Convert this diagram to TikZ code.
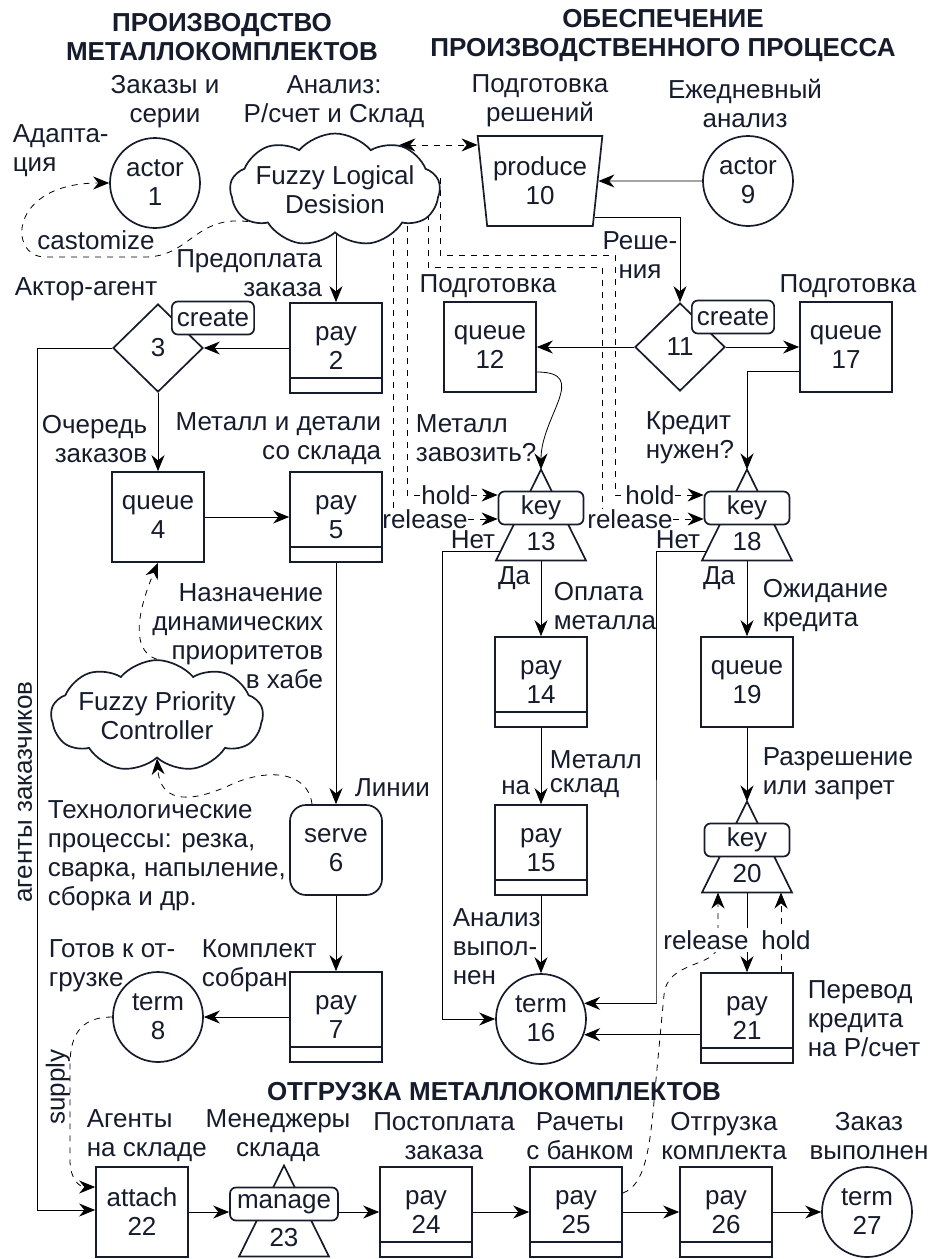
\documentclass[tikz,border=0pt]{standalone}
\usepackage{fontspec}
\setmainfont{Liberation Sans}
\usetikzlibrary{arrows.meta,shapes.geometric,shapes.symbols,calc,backgrounds}

\definecolor{ink}{RGB}{22,28,44}

\tikzset{
  box/.style={draw, fill=white, minimum width=46pt, minimum height=45pt, inner sep=1pt, align=center},
  paybox/.style={box, path picture={\draw ([yshift=7.5pt]path picture bounding box.south west) -- ([yshift=7.5pt]path picture bounding box.south east);}},
  circ/.style={draw, fill=white, circle, minimum size=45pt, inner sep=0pt, align=center},
  dia/.style={draw, fill=white, diamond, minimum width=45pt, minimum height=44pt, inner sep=0pt},
  tag/.style={draw, fill=white, rounded corners=3pt, minimum height=16.5pt, inner xsep=2.5pt, inner ysep=0pt},
  fuzzy/.style={draw, fill=white, cloud, cloud puffs=9, cloud puff arc=100, aspect=2.4, inner sep=-3.5pt, align=center},
  txt/.style={align=center, inner sep=1pt},
  sig/.style={inner sep=0pt},
  ttl/.style={align=center, font=\fontsize{13}{14.5}\selectfont\bfseries}
}

% key / manage block: name, x, y, text, number, width
\newcommand{\keyblock}[6]{%
  \draw (#2,#3-38.5) -- (#2-45,#3+52.5) -- (#2+45,#3+52.5) -- cycle;
  \node[tag, minimum width=#6] (#1) at (#2,#3) {#4};
  \node (#1n) at (#2,#3+34) {#5};
  \coordinate (#1-top) at (#2,#3-38.5);
  \coordinate (#1-bot) at (#2,#3+52.5);
  \coordinate (#1-no) at ($(#1-top)!0.9!(#2-45,#3+52.5)$);
}

\begin{document}
\begin{tikzpicture}[x=0.5pt, y=-0.5pt, font=\fontsize{13}{14.5}\selectfont,
  line width=0.85pt, color=ink, >={Stealth[length=8pt,width=6.5pt]}]
\useasboundingbox (0,0) rectangle (930,1259);

% titles
\node[ttl] (ttl1) at (222,37) {ПРОИЗВОДСТВО\\МЕТАЛЛОКОМПЛЕКТОВ};
\node[ttl] (ttl2) at (663,36) {ОБЕСПЕЧЕНИЕ\\ПРОИЗВОДСТВЕННОГО ПРОЦЕССА};
\node[ttl] (ttl3) at (494,1092) {ОТГРУЗКА МЕТАЛЛОКОМПЛЕКТОВ};

% production
\node[circ] (a1) at (155,183) {actor\\1};
\node[fuzzy, minimum width=105pt, minimum height=44pt] (fld) at (335,190) {Fuzzy Logical\\Desision};
\node[paybox] (p2) at (336,348) {pay\\2};
\node[dia] (d3) at (158,348) {3};
\node[tag] (c3) at (213,318) {create};
\node[box] (q4) at (158,517) {queue\\4};
\node[paybox] (p5) at (336,517) {pay\\5};
\node[fuzzy, minimum width=106pt, minimum height=46pt] (fpc) at (157,716) {Fuzzy Priority\\Controller};
\node[box, rounded corners=8pt] (s6) at (336,850) {serve\\6};
\node[paybox] (p7) at (336,1017) {pay\\7};
\node[circ] (t8) at (158,1017) {term\\8};

% supply of the process
\node[draw, fill=white, trapezium, trapezium angle=100, trapezium stretches=true,
  minimum width=62.5pt, minimum height=45pt, inner sep=0pt, align=center] (p10) at (540,181) {produce\\10};
\node[circ] (a9) at (748,181) {actor\\9};
\node[dia] (d11) at (680,347) {11};
\node[tag] (c11) at (733,317) {create};
\node[box] (q12) at (490,347) {queue\\12};
\node[box] (q17) at (846,347) {queue\\17};
\keyblock{k13}{541}{508}{key}{13}{42.5pt}
\keyblock{k18}{747}{508}{key}{18}{42.5pt}
\node[paybox] (p14) at (541,682) {pay\\14};
\node[paybox] (p15) at (541,850) {pay\\15};
\node[circ] (t16) at (541,1019) {term\\16};
\node[box] (q19) at (747,682) {queue\\19};
\keyblock{k20}{747}{840}{key}{20}{42.5pt}
\node[paybox] (p21) at (747,1018) {pay\\21};

% shipping
\node[box] (at22) at (142,1212) {attach\\22};
\keyblock{m23}{284}{1204}{manage}{23}{54pt}
\node[paybox] (p24) at (426,1212) {pay\\24};
\node[paybox] (p25) at (576,1212) {pay\\25};
\node[paybox] (p26) at (726,1212) {pay\\26};
\node[circ] (t27) at (867,1212) {term\\27};

% labels
\node[txt] (l1) at (165,102) {Заказы и\\серии};
\node[txt] (l2) at (334,102) {Анализ:\\Р/счет и Склад};
\node[txt] (l3) at (540,101) {Подготовка\\решений};
\node[txt] (l4) at (745,103) {Ежедневный\\анализ};
\node[txt, align=left, anchor=west] (l5) at (10,151) {Адапта-\\ция};
\node[txt] (l6) at (96,240) {castomize};
\node[txt, align=right, anchor=east] (l7) at (325,273) {Предоплата\\заказа};
\node[txt] (l8) at (86,289) {Актор-агент};
\node[txt] (l9) at (488,286) {Подготовка};
\node[txt] (l10) at (848,286) {Подготовка};
\node[txt] (l11) at (640,255) {Реше-\\ния};
\node[txt, align=right, anchor=east] (l12) at (150,439) {Очередь\\заказов};
\node[txt, align=right, anchor=east] (l13) at (384,439) {Металл и детали\\со склада};
\node[txt, align=left, anchor=west] (l14) at (413,438) {Металл\\завозить?};
\node[txt, align=left, anchor=west] (l15) at (643,438) {Кредит\\нужен?};
\node[sig] (hd13) at (446,495) {hold};
\node[sig] (rl13) at (425,519) {release};
\node[sig] (hd18) at (650,495) {hold};
\node[sig] (rl18) at (630,519) {release};
\node[txt, anchor=east] (no13) at (498,540) {Нет};
\node[txt, anchor=east] (no18) at (703,540) {Нет};
\node[txt, anchor=east] (da13) at (533,578) {Да};
\node[txt, anchor=east] (da18) at (738,578) {Да};
\node[txt, align=left, anchor=west] (l16) at (551,606) {Оплата\\металла};
\node[txt, align=left, anchor=west] (l17) at (760,606) {Ожидание\\кредита};
\node[txt, align=right, anchor=east] (l18) at (326,636) {Назначение\\динамических\\приоритетов\\в хабе};
\node[txt, anchor=west] (l19) at (547,760) {Металл};
\node[txt, anchor=east] (l20) at (533,788) {на};
\node[txt, anchor=west] (l21) at (547,788) {склад};
\node[txt, align=left, anchor=west] (l22) at (760,774) {Разрешение\\или запрет};
\node[txt, anchor=west] (l23) at (352,788) {Линии};
\node[txt, align=left, anchor=west] (l24) at (45,856) {Технологические\\процессы: резка,\\сварка, напыление,\\сборка и др.};
\node[txt, align=left, anchor=west] (l25) at (450,947) {Анализ\\выпол-\\нен};
\node[txt, fill=white] (rl20) at (706,940) {release};
\node[txt, fill=white] (hd20) at (786,940) {hold};
\node[txt, align=left, anchor=west] (l26) at (46,966) {Готов к от-\\грузке};
\node[txt, align=left, anchor=west] (l27) at (199,966) {Комплект\\собран};
\node[txt, align=left, anchor=west] (l28) at (805,1019) {Перевод\\кредита\\на Р/счет};
\node[txt, rotate=90] (l29) at (25,792) {агенты заказчиков};
\node[txt, rotate=90] (l30) at (58,1087) {supply};
\node[txt, align=left, anchor=west] (l31) at (84,1136) {Агенты\\на складе};
\node[txt] (l32) at (278,1136) {Менеджеры\\склада};
\node[txt] (l33) at (444,1136) {Постоплата\\заказа};
\node[txt] (l34) at (580,1136) {Рачеты\\с банком};
\node[txt] (l35) at (724,1136) {Отгрузка\\комплекта};
\node[txt] (l36) at (869,1136) {Заказ\\выполнен};

\coordinate (agl) at (37,1210);
\coordinate (r18) at (602,267);
\coordinate (h18) at (615,255);
\coordinate (n13) at (442,1019);
\coordinate (n18) at (656,1003.6);
\coordinate (rel20) at (718,892.5);
\coordinate (hld20) at (781,892.5);
\coordinate (p10b) at ($(p10.top right corner)!0.9!(p10.bottom right corner)$);

\begin{pgfonlayer}{background}
% production flow
\draw[dashed,->] (fld.200) .. controls (195,215) and (190,257) .. (145,257) -- (45,257)
  .. controls (8,257) and (8,183) .. (a1.west);
\draw[dashed,<->] (fld.35) -- ($(fld.35 -| p10.west)+(-4,0)$);
\draw[->] (fld.south -| p2.north) -- (p2.north);
\draw[->] (p2.west) -- (d3.east);
\draw[->] (d3.south) -- (q4.north);
\draw[->] (d3.west) -| (agl) -- (agl -| at22.west);
\draw[->] (q4.east) -- (p5.west);
\draw[->] (p5.south) -- (s6.north);
\draw[->] (s6.south) -- (p7.north);
\draw[->] (p7.west) -- (t8.east);
\draw[dashed,->] (fpc.north) .. controls (128,650) and (140,605) .. (q4.south);
\draw[dashed,->] ([xshift=-12pt]s6.north) .. controls (308,770) and (265,768) .. (228,786)
  .. controls (185,805) and (160,800) .. (fpc.south);
\draw[dashed,->] (t8.west) .. controls (85,1017) and (70,1030) .. (70,1065) -- (70,1160)
  .. controls (70,1180) and (80,1187) .. ([yshift=12.5pt]at22.west);

% supply flow
\draw[->] (a9) -- (p10);
\draw[->] (p10b) -| (d11.north);
\draw[->] (d11.west) -- (q12.east);
\draw[->] (d11.east) -- (q17.west);
\draw[->] ([yshift=-12.5pt]q12.east) to[out=0,in=90,looseness=1.4] (k13-top);
\draw[->] ([yshift=-12pt]q17.west) -| (k18-top);
\draw[dashed] ([xshift=29pt]fld.center) -- ([xshift=29pt]fld.center |- rl13.north);
\draw[dashed] ([xshift=36pt]fld.center) |- (hd13.west);
\draw[dashed,->] (hd13.east) -- (hd13.east -| k13.west);
\draw[dashed,->] (rl13.east) -- (rl13.east -| k13.west);
\draw[dashed] ([xshift=46.5pt,yshift=6pt]fld.center) |- (r18) -- (r18 |- rl18.north);
\draw[dashed] ([xshift=52.5pt,yshift=6pt]fld.center) |- (h18) |- (hd18.west);
\draw[dashed,->] (hd18.east) -- (hd18.east -| k18.west);
\draw[dashed,->] (rl18.east) -- (rl18.east -| k18.west);
\draw[->] (k13-no) -| (n13) -- (t16.west);
\draw[->] (k18-no) -| (n18) |- (t16.20);
\draw[->] (k13-bot) -- (p14.north);
\draw[->] (p14.south) -- (p15.north);
\draw[->] (p15.south) -- (t16.north);
\draw[->] (k18-bot) -- (q19.north);
\draw[->] (q19.south) -- (k20-top);
\draw[->] (k20-bot) -- (p21.north);
\draw[dashed,->] (p21.north -| hld20) -- (hld20);
\draw[->] (p21.west |- t16.-20) -- (t16.-20);

% shipping flow
\draw[->] (at22.east) -- (at22.east -| m23.west);
\draw[->] (m23.east |- p24.west) -- (p24.west);
\draw[->] (p24.east) -- (p25.west);
\draw[->] (p25.east) -- (p26.west);
\draw[->] (p26.east) -- (t27.west);
\draw[dashed,->] ([yshift=9.5pt]p25.east) .. controls (645,1185) and (650,1150) .. (655,1090)
  -- (664,995) .. controls (667,960) and (716,968) .. (718,945) -- (rel20);
\end{pgfonlayer}
\end{tikzpicture}
\end{document}
